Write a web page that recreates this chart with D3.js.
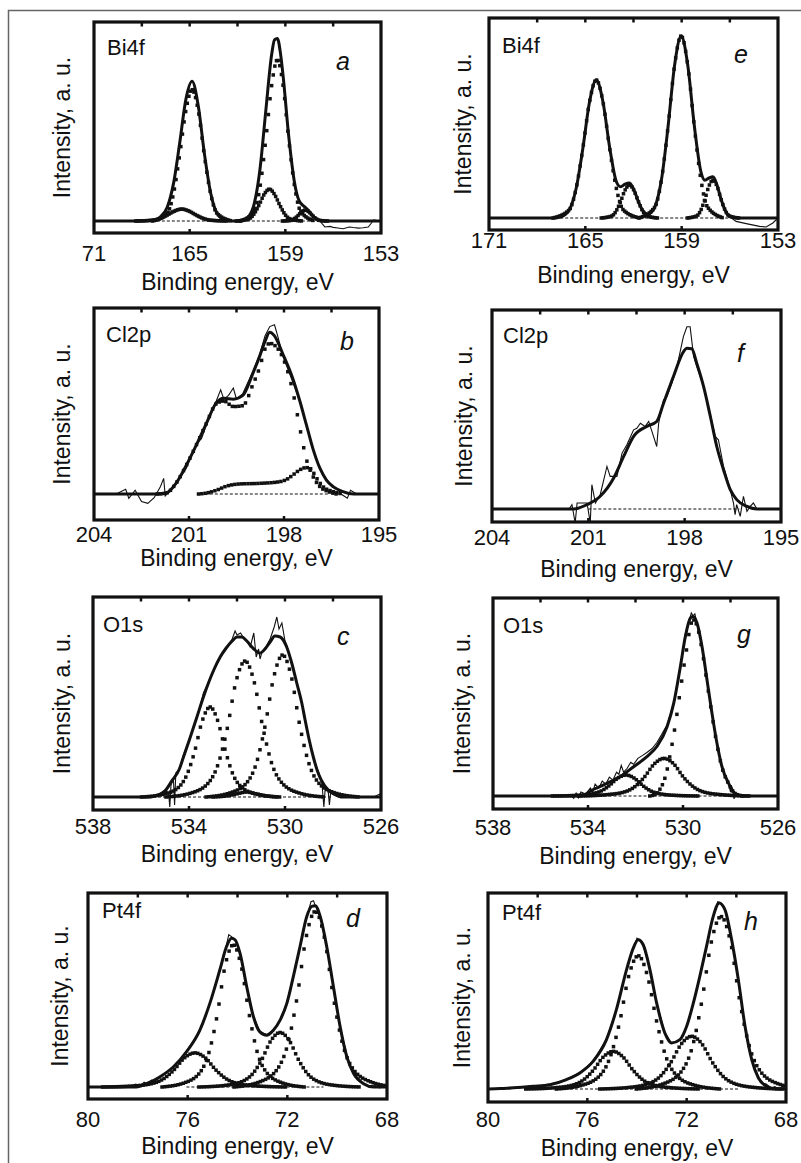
<!DOCTYPE html>
<html>
<head>
<meta charset="utf-8">
<script src="https://cdn.jsdelivr.net/npm/d3@7/dist/d3.min.js"></script>
<style>
  body { margin: 0; background: #fff; }
  svg { display: block; font-family: "Liberation Sans", Arial, sans-serif; }
</style>
</head>
<body>
<svg id="chart" width="801" height="1163"></svg>
<script>
// ---- tick values and labels ----
const ticksBi = [171, 165, 159, 153];
const labelsBiA = ["71", "165", "159", "153"];
const labelsBiE = ["171", "165", "159", "153"];
const minorBi = [168, 165, 162, 159, 156];
const ticksCl = [204, 201, 198, 195];
const minorCl = [202.5, 201, 199.5, 198, 196.5];
const ticksO = [538, 534, 530, 526];
const minorO = [536, 534, 532, 530, 528];
const ticksPt = [80, 76, 72, 68];
const minorPt = [78, 76, 74, 72, 70];

// ---- panel a : Bi4f ----
const envA = [[171,0],[168.4,0],[167.3,0.4],[166.85,2],[166.4,7],[166.0,19.4],[165.63,38.9],[165.24,61],[164.85,70.2],[164.46,57.8],[164.08,34.1],[163.69,14.3],[163.3,4.1],[162.8,0.5],[162.3,0],[161.8,0],[161.5,0.8],[161.3,2.1],[160.95,8.7],[160.59,26],[160.23,55],[159.86,83.5],[159.68,91],[159.5,91.7],[159.3,84],[159.14,72.9],[158.78,42],[158.41,18.6],[158.2,11.5],[158.05,9.1],[157.75,6.9],[157.53,5.1],[157.3,2.75],[157.08,1.2],[156.85,0.3],[156.3,0],[153,0]];
const rawA = [[157.0,0],[156.84,0],[156.52,-3],[156.2,-2.7],[156.0,-3.2],[155.7,-3.5],[155.37,-3.9],[155.0,-3],[154.74,-3.3],[154.4,-3.6],[154.12,-3.4],[153.8,-3],[153.6,-1],[153.49,0.5],[153.3,0.3]];
const compA1 = [[167.33,0],[166.4,4],[166.01,13.9],[165.63,33],[165.24,55.4],[164.85,66],[164.46,55.4],[164.08,33],[163.69,13.9],[163.3,4],[162.37,0]];
const compA2 = [[161.82,0],[160.95,5],[160.59,17],[160.23,40.5],[159.86,68],[159.5,81],[159.14,68],[158.78,40.5],[158.41,17],[158.05,5],[157.18,0]];
const compA3 = [[168.38,0],[167.3,0.4],[166.85,1.3],[166.4,3],[165.95,5],[165.5,6],[165.05,5],[164.6,3],[164.15,1.3],[163.7,0.4],[162.62,0]];
const compA4 = [[162.08,0],[161.3,1],[160.98,3.4],[160.65,8],[160.33,13.4],[160.0,16],[159.68,13.4],[159.35,8],[159.03,3.4],[158.7,1],[157.92,0]];
const compA5 = [[159.19,0],[158.65,0.3],[158.43,1.2],[158.2,2.75],[157.98,4.6],[157.75,5.5],[157.53,4.6],[157.3,2.75],[157.08,1.2],[156.85,0.3],[156.31,0]];
const bgA = [[168,0],[156.5,0]];

// ---- panel e : Bi4f ----
const envE = [[171,0],[167.5,0],[167.01,0],[166.5,0.6],[166.0,4.1],[165.58,14.5],[165.16,34.5],[164.74,58],[164.32,69],[163.9,58],[163.48,35],[163.06,18],[162.8,15.6],[162.53,16.9],[162.25,17.5],[161.98,14.2],[161.7,8.3],[161.43,3.8],[161.15,1.9],[160.9,2.7],[160.67,5.5],[160.26,19.1],[159.85,45.5],[159.44,76.4],[159.03,91],[158.62,76.4],[158.21,46],[157.8,23.1],[157.55,18.9],[157.3,20],[157.05,20.6],[156.8,16.5],[156.55,9.5],[156.3,4],[156.05,1.1],[155.45,0],[153,0]];
const rawE = [[155.9,0],[155.61,-1.7],[154.98,-2.8],[154.15,-4.2],[153.74,-4.5],[153.32,-2.5],[153.0,0]];
const compE1 = [[167.01,0],[166.0,4.1],[165.58,14.5],[165.16,34.5],[164.74,58],[164.32,69],[163.9,58],[163.48,34.5],[163.06,14.5],[162.64,4.1],[161.63,0]];
const compE2 = [[164.01,0],[163.35,1],[163.08,3.5],[162.8,8.3],[162.53,13.9],[162.25,16.5],[161.98,13.9],[161.7,8.3],[161.43,3.5],[161.15,1],[160.49,0]];
const compE3 = [[161.65,0],[160.67,5.5],[160.26,19.1],[159.85,45.5],[159.44,76.4],[159.03,91],[158.62,76.4],[158.21,45.5],[157.8,19.1],[157.39,5.5],[156.41,0]];
const compE4 = [[158.65,0],[158.05,1.1],[157.8,4],[157.55,9.5],[157.3,16],[157.05,19],[156.8,16],[156.55,9.5],[156.3,4],[156.05,1.1],[155.45,0]];
const bgE = [[167.5,0],[155.5,0]];

// ---- panel b : Cl2p ----
const envB = [[204,0],[202,0],[201.72,0.5],[201.4,6],[201.08,15.6],[200.75,27],[200.45,38],[200.14,49],[199.9,51.5],[199.6,51],[199.3,53],[198.98,65],[198.77,74],[198.6,82],[198.45,87],[198.3,85],[198.03,75],[197.72,62],[197.5,50],[197.29,37],[197.08,24],[196.87,14],[196.66,7.5],[196.45,4],[196.14,1.3],[195.8,0],[195,0]];
const rawB = [[203.3,0],[203.0,2.5],[202.9,-2.3],[202.7,2],[202.5,-4],[202.3,-5],[202.1,-2],[201.9,4],[201.8,8.4],[201.75,-1],[201.6,2],[201.4,6],[201.08,14],[200.9,22],[200.75,27],[200.6,30],[200.45,37],[200.3,44],[200.14,50],[200.0,56],[199.9,51],[199.75,53],[199.6,57],[199.5,51],[199.3,54],[198.98,66],[198.77,75],[198.6,85],[198.45,90],[198.3,91],[198.2,85],[198.03,74],[197.72,60],[197.5,50],[197.29,37],[197.08,24],[196.87,14],[196.66,8],[196.45,3.5],[196.3,2.7],[196.2,0],[196.0,-2.3],[195.9,2],[195.7,0]];
const compB1 = [[202,0],[201.72,0.5],[201.4,6],[201.08,15.6],[200.75,27],[200.45,38],[200.14,48.5],[199.9,50],[199.6,47],[199.3,47.5],[198.98,59],[198.77,68],[198.6,78],[198.45,81],[198.3,80],[198.03,73],[197.85,64],[197.72,55],[197.56,41],[197.45,31],[197.29,18.5],[197.08,9.3],[196.87,4],[196.6,1.3],[196.35,0]];
const compB2 = [[200.7,0],[200.45,0.5],[200.14,2],[199.8,4.3],[199.4,5.4],[198.8,5.7],[198.14,6.6],[197.9,8],[197.72,10.2],[197.5,13],[197.3,14.2],[197.15,13.5],[197.0,9.3],[196.77,4],[196.45,1.3],[196.14,0]];
const bgB = [[200.5,0],[196.6,0]];

// ---- panel f : Cl2p ----
const envF = [[204,0],[201.46,0],[201.04,2.2],[200.63,6.4],[200.21,15.6],[199.9,26.4],[199.59,36.5],[199.18,41.5],[198.87,44],[198.66,53],[198.35,66.6],[198.04,79],[197.93,80.8],[197.78,80.5],[197.62,73],[197.41,61.5],[197.2,46.5],[197.0,31.4],[196.79,19.7],[196.58,9.7],[196.38,4.7],[196.06,1.3],[195.75,0],[195,0]];
const rawF = [[201.6,0],[201.51,2.2],[201.41,-7],[201.35,3],[201.04,3],[200.94,-7],[200.89,12.2],[200.78,3],[200.63,7.2],[200.42,21.4],[200.32,16.4],[200.11,16.4],[199.95,28.1],[199.8,32.3],[199.59,39.8],[199.49,40.6],[199.38,43.1],[199.23,41.5],[199.12,44],[198.97,36.5],[198.87,31.4],[198.81,43.1],[198.66,54.8],[198.55,56.5],[198.4,63.2],[198.24,71.6],[198.04,86.6],[197.93,91.6],[197.83,91.6],[197.72,76.6],[197.62,71.6],[197.41,61.5],[197.21,48.2],[197.05,36.5],[196.95,34.8],[196.79,21.4],[196.58,9.7],[196.48,3],[196.43,-2.8],[196.38,2.2],[196.27,-3.7],[196.17,6.4],[196.06,-1.2],[195.96,1.3],[195.86,3],[195.75,0]];
const bgF = [[201.0,0],[196.3,0]];

// ---- panel c : O1s ----
const envC = [[538,0],[535.6,0],[535.34,0.8],[535.0,3],[534.7,8.3],[534.4,14],[534.23,20],[534.0,28],[533.67,40],[533.4,50],[533.19,57],[532.95,64],[532.7,70],[532.45,74.5],[532.2,78],[532.0,80],[531.8,80],[531.59,78],[531.3,74],[531.04,72],[530.8,74.5],[530.62,77.5],[530.42,80.5],[530.2,80],[529.93,75],[529.72,67],[529.51,57],[529.3,47],[529.17,39],[529.0,29],[528.82,20],[528.65,13],[528.47,8],[528.2,3.5],[527.99,1.7],[527.57,0],[526,0]];
const rawC = [[535.6,0],[535.3,1],[535.0,3.5],[534.85,2],[534.8,-5],[534.75,6],[534.65,9],[534.6,-4],[534.55,12],[534.4,14],[534.23,21],[534.0,28.5],[533.8,35],[533.67,40],[533.5,47],[533.4,52],[533.19,57],[533.0,62],[532.8,68],[532.7,70.5],[532.5,73],[532.35,76.5],[532.2,79],[532.08,83],[532.0,81],[531.85,82],[531.7,79],[531.59,78],[531.45,75],[531.3,82],[531.2,70],[531.1,74],[531.04,69],[530.95,73],[530.8,75],[530.62,79],[530.45,85],[530.34,90],[530.25,84],[530.13,87],[530.0,78],[529.93,76],[529.72,67],[529.51,57],[529.3,47],[529.17,39],[529.0,29],[528.82,20],[528.65,14],[528.47,8],[528.38,-5],[528.32,5],[528.2,3],[528.15,-4],[528.1,2],[527.99,1.7],[527.6,0],[526.3,0],[526.05,1.5],[526.0,-1]];
const compC1 = [[535.98,0],[535.07,1.35],[534.42,5],[534.1,10.8],[533.77,22.5],[533.45,38],[533.12,45],[532.8,38],[532.47,22.5],[532.15,10.8],[531.82,5],[531.17,1.35],[530.26,0]];
const compC2 = [[534.96,0],[533.91,2],[533.16,7.5],[532.79,16.3],[532.41,34],[532.04,57.8],[531.66,68],[531.29,57.8],[530.91,34],[530.54,16.3],[530.16,7.5],[529.41,2],[528.36,0]];
const compC3 = [[533.29,0],[532.28,2.1],[531.55,7.8],[531.19,17],[530.83,35.5],[530.46,60.4],[530.1,71],[529.74,60.4],[529.38,35.5],[529.01,17],[528.65,7.8],[527.93,2.1],[526.91,0]];
const compC4 = [[533.0,0],[532.4,0.6],[532.0,1.6],[531.6,2.5],[531.2,1.6],[530.8,0.6],[530.2,0]];
const bgC = [[535.5,0],[528.0,0]];

// ---- panel g : O1s ----
const envG = [[538,0],[534.32,0],[533.76,3.4],[533.2,6.4],[532.64,9.8],[532.08,14.8],[531.52,19.9],[531.1,25],[530.67,35],[530.39,46.9],[530.11,65.4],[529.9,80.6],[529.69,89.9],[529.58,90.7],[529.41,87.4],[529.2,75.5],[528.99,58.7],[528.78,41.8],[528.57,26.6],[528.36,14.8],[528.08,6.4],[527.8,1.3],[527.45,0],[526,0]];
const rawG = [[534.7,0],[534.6,-1.2],[534.5,1.5],[534.4,-1],[534.3,2],[534.1,1],[533.9,4],[533.8,2],[533.7,6],[533.55,4],[533.4,7.5],[533.25,6],[533.1,9.5],[532.95,8],[532.8,12],[532.7,11],[532.6,15.5],[532.5,12],[532.35,14],[532.2,17],[532.08,16],[531.9,19],[531.7,20.5],[531.52,22],[531.3,24],[531.1,27],[530.9,31],[530.67,36],[530.39,47],[530.2,60],[530.11,66],[529.9,82],[529.75,88],[529.65,92.5],[529.58,91],[529.5,92],[529.41,87],[529.2,75.5],[528.99,58.7],[528.78,41.8],[528.57,26.6],[528.36,14.8],[528.2,9],[528.08,6.4],[528.0,2],[527.95,5],[527.85,-1.5],[527.8,1.3],[527.6,0.5],[527.45,0]];
const compG1 = [[531.4,0],[531.1,1.3],[530.95,3.9],[530.81,7.3],[530.67,13.2],[530.53,21.6],[530.39,30.9],[530.25,41.8],[530.11,53.6],[529.97,65],[529.83,75.5],[529.7,85],[529.58,89],[529.41,86],[529.2,74],[528.99,57.5],[528.78,41],[528.57,26],[528.36,14.5],[528.08,6.2],[527.8,1.2],[527.45,0]];
const compG2 = [[534.4,0],[533.28,0.6],[532.45,2.1],[532.04,4.6],[531.63,9.5],[531.21,16.2],[530.8,19],[530.39,16.2],[529.98,9.5],[529.56,4.6],[529.15,2.1],[528.32,0.6],[527.2,0]];
const compG3 = [[535.5,0],[534.5,0.3],[533.8,1.2],[533.45,2.5],[533.1,5.3],[532.75,9],[532.4,10.6],[532.05,9],[531.7,5.3],[531.35,2.5],[531.0,1.2],[530.3,0.3],[529.3,0]];
const bgG = [[534.4,0],[527.6,0]];

// ---- panel d : Pt4f ----
const envD = [[80,0],[78.06,0],[77.65,1.7],[77.12,5.2],[76.58,10.3],[76.05,18.1],[75.51,29.3],[75.11,43.1],[74.71,60.3],[74.44,72.4],[74.24,76.7],[74.1,75.9],[73.9,69],[73.63,51.7],[73.36,36.2],[73.1,28.4],[72.83,26.7],[72.56,29.3],[72.29,34.5],[72.02,43.1],[71.76,56.9],[71.49,72.4],[71.22,87.9],[71.02,93.1],[70.88,93.4],[70.68,87.9],[70.42,72.4],[70.15,51.7],[69.88,31],[69.61,15.5],[69.34,6.9],[68.94,1.7],[68.54,0],[68,0]];
const rawD = [[78.3,0],[78.1,1.5],[77.9,0.5],[77.75,2.5],[77.6,1.5],[77.45,3.5],[77.3,3],[77.12,5.5],[76.9,7],[76.58,10.5],[76.3,14],[76.05,18.5],[75.8,23],[75.51,29.5],[75.11,43],[74.71,60.5],[74.5,70],[74.35,78.5],[74.24,77.5],[74.1,76],[73.9,69],[73.63,52],[73.36,36.5],[73.1,28.5],[72.83,27],[72.56,29.5],[72.29,34.5],[72.02,43.5],[71.76,57],[71.49,72.5],[71.22,88],[71.05,95.5],[70.95,96],[70.88,93.5],[70.68,88],[70.42,72.5],[70.15,52],[69.88,31.5],[69.61,16],[69.45,10],[69.3,8],[69.2,5],[69.1,4],[68.94,1.5],[68.7,0.5],[68.5,1],[68.3,-0.5],[68.1,0.5],[68,0]];
const compD1 = [[77.03,0],[76.12,2.2],[75.47,8.1],[75.15,17.6],[74.82,36.7],[74.5,62.3],[74.17,73.3],[73.85,62.3],[73.52,36.7],[73.2,17.6],[72.87,8.1],[72.22,2.2],[71.31,0]];
const compD2 = [[74.14,0],[73.1,2.7],[72.36,10],[71.99,21.7],[71.62,45.3],[71.25,76.9],[70.88,90.5],[70.51,76.9],[70.14,45.3],[69.77,21.7],[69.4,10],[68.66,2.7],[67.62,0]];
const compD3 = [[79.41,0],[78.23,0.5],[77.39,1.9],[76.97,4.2],[76.55,8.8],[76.13,15],[75.71,17.6],[75.29,15],[74.87,8.8],[74.45,4.2],[74.03,1.9],[73.19,0.5],[72.01,0]];
const compD4 = [[75.55,0],[74.51,0.8],[73.77,3.1],[73.4,6.7],[73.03,14],[72.66,23.9],[72.29,28.1],[71.92,23.9],[71.55,14],[71.18,6.7],[70.81,3.1],[70.07,0.8],[69.03,0]];
const bgD = [[76.05,0],[70.55,0]];

// ---- panel h : Pt4f ----
const envH = [[80,0],[79.5,0.2],[79.13,0.5],[78.19,1.4],[77.51,2.2],[76.84,4.8],[76.3,8.2],[75.77,14.1],[75.23,25.2],[74.83,40.5],[74.42,60.9],[74.15,71.9],[73.95,76.2],[73.75,73.6],[73.48,60.9],[73.21,43.9],[72.88,28.6],[72.61,23.5],[72.27,25.2],[72.0,32],[71.73,43.9],[71.47,57.5],[71.2,72.8],[70.93,88.1],[70.69,94.9],[70.46,91.5],[70.19,76.2],[69.92,55.8],[69.65,32],[69.38,15],[69.11,5.6],[68.78,1.4],[68.37,0],[68,0]];
const rawH = [[79.2,0],[78.8,0.5],[78.4,1],[78.0,1.5],[77.5,2.5],[77.0,4],[76.84,5],[76.3,8.5],[75.77,14],[75.23,25.5],[74.83,40.5],[74.42,61],[74.15,72],[74.0,77],[73.9,76],[73.75,73.5],[73.48,61],[73.21,44],[72.88,29],[72.61,23.5],[72.27,25],[72.0,32],[71.73,44],[71.47,57.5],[71.2,73],[70.93,88],[70.75,95.5],[70.65,95],[70.46,91.5],[70.19,76],[69.92,56],[69.65,32],[69.38,15],[69.11,6],[68.95,3],[68.8,2.5],[68.6,0.5],[68.45,1.2],[68.3,0],[68.1,0.6],[68,0]];
const compH1 = [[77.25,0],[76.2,2],[75.45,7.5],[75.08,16.3],[74.7,34],[74.33,57.8],[73.95,68],[73.58,57.8],[73.2,34],[72.83,16.3],[72.45,7.5],[71.7,2],[70.65,0]];
const compH2 = [[74.03,0],[72.95,2.6],[72.17,9.7],[71.78,21.1],[71.4,44],[71.01,74.8],[70.62,88],[70.23,74.8],[69.85,44],[69.46,21.1],[69.07,9.7],[68.3,2.6],[67.21,0]];
const compH3 = [[78.48,0],[77.36,0.6],[76.56,2.1],[76.16,4.6],[75.76,9.6],[75.36,16.3],[74.96,19.2],[74.56,16.3],[74.16,9.6],[73.76,4.6],[73.36,2.1],[72.56,0.6],[71.44,0]];
const compH4 = [[75.5,0],[74.32,0.8],[73.48,3],[73.06,6.5],[72.64,13.5],[72.22,22.9],[71.8,26.9],[71.38,22.9],[70.96,13.5],[70.54,6.5],[70.12,3],[69.28,0.8],[68.1,0]];
const bgH = [[76.9,0],[69.85,0]];

// ---- layout: where each panel sits ----
const panels = [
  {el:"Bi4f", tag:"a", env:envA, raw:rawA, comps:[compA1,compA2,compA3,compA4,compA5], bg:bgA, dom:[171,153], ticks:ticksBi, labels:labelsBiA, minor:minorBi,
   x0:94, x1:381, y0:22, y1:233, base:221, tickY:261, titleY:290, ylabX:70, elX:107, elY:55, tagX:336, tagY:70},
  {el:"Bi4f", tag:"e", env:envE, raw:rawE, comps:[compE1,compE2,compE3,compE4], bg:bgE, dom:[171,153], ticks:ticksBi, labels:labelsBiE, minor:minorBi,
   x0:489, x1:778, y0:18, y1:230, base:218, tickY:248, titleY:283, ylabX:471, elX:502, elY:53, tagX:734, tagY:63},
  {el:"Cl2p", tag:"b", env:envB, raw:rawB, comps:[compB1,compB2], bg:bgB, dom:[204,195], ticks:ticksCl, labels:ticksCl.map(String), minor:minorCl,
   x0:94, x1:379, y0:308, y1:520, base:494, tickY:542, titleY:566, ylabX:70, elX:106, elY:342, tagX:340, tagY:350},
  {el:"Cl2p", tag:"f", env:envF, raw:rawF, comps:[], bg:bgF, dom:[204,195], ticks:ticksCl, labels:ticksCl.map(String), minor:minorCl,
   x0:492, x1:781, y0:310, y1:522, base:509, tickY:545, titleY:577, ylabX:472, elX:503, elY:343, tagX:737, tagY:362},
  {el:"O1s", tag:"c", env:envC, raw:rawC, comps:[compC1,compC2,compC3,compC4], bg:bgC, dom:[538,526], ticks:ticksO, labels:ticksO.map(String), minor:minorO,
   x0:93, x1:381, y0:597, y1:810, base:797, tickY:834, titleY:862, ylabX:70, elX:103, elY:632, tagX:337, tagY:645},
  {el:"O1s", tag:"g", env:envG, raw:rawG, comps:[compG1,compG2,compG3], bg:bgG, dom:[538,526], ticks:ticksO, labels:ticksO.map(String), minor:minorO,
   x0:493, x1:778, y0:598, y1:809, base:796, tickY:835, titleY:864, ylabX:470, elX:503, elY:633, tagX:737, tagY:643},
  {el:"Pt4f", tag:"d", env:envD, raw:rawD, comps:[compD1,compD2,compD3,compD4], bg:bgD, dom:[80,68], ticks:ticksPt, labels:ticksPt.map(String), minor:minorPt,
   x0:88, x1:387, y0:893, y1:1099, base:1087, tickY:1127, titleY:1154, ylabX:68, elX:102, elY:918, tagX:346, tagY:927},
  {el:"Pt4f", tag:"h", env:envH, raw:rawH, comps:[compH1,compH2,compH3,compH4], bg:bgH, dom:[80,68], ticks:ticksPt, labels:ticksPt.map(String), minor:minorPt,
   x0:488, x1:786, y0:893, y1:1102, base:1089, tickY:1127, titleY:1156, ylabX:470, elX:502, elY:920, tagX:744, tagY:930}
];

const ink = "#111";
const svg = d3.select("#chart");

// outer figure border (runs off the right and bottom edges)
svg.append("path")
  .attr("d", "M8.5,1163 V10.5 H801")
  .attr("fill", "none").attr("stroke", "#666").attr("stroke-width", 1.5);

const defs = svg.append("defs");

// square markers placed every 0.1 eV along a component curve
function drawMarkers(g, pts, x, y) {
  const line = d3.line().x(d => x(d[0])).y(d => y(d[1])).curve(d3.curveMonotoneX);
  const path = g.append("path").attr("d", line(pts)).attr("fill", "none");
  const node = path.node();
  const total = node.getTotalLength();
  const stepPx = Math.abs(x(0) - x(0.1));
  const marks = [];
  let next = -Infinity;
  for (let l = 0; l <= total; l += 0.3) {
    const p = node.getPointAtLength(l);
    if (p.x >= next) { marks.push(p); next = p.x + stepPx; }
  }
  path.remove();
  g.selectAll(null).data(marks).enter().append("rect")
    .attr("x", d => d.x - 1.75).attr("y", d => d.y - 1.75)
    .attr("width", 3.5).attr("height", 3.5)
    .attr("fill", ink);
}

function drawPanel(p, i) {
  const x = d3.scaleLinear().domain(p.dom).range([p.x0, p.x1]);
  const y = d3.scaleLinear().domain([0, 100]).range([p.base, p.y0]);
  const g = svg.append("g");

  defs.append("clipPath").attr("id", "clip" + i)
    .append("rect").attr("x", p.x0).attr("y", p.y0)
    .attr("width", p.x1 - p.x0).attr("height", p.y1 - p.y0);

  const plot = g.append("g").attr("clip-path", `url(#clip${i})`);
  const line = d3.line().x(d => x(d[0])).y(d => y(d[1]));

  // background (dashed)
  plot.append("path").attr("d", line(p.bg))
    .attr("fill", "none").attr("stroke", ink).attr("stroke-width", 1.1)
    .attr("stroke-dasharray", "3,2");

  // measured spectrum (thin, noisy)
  plot.append("path").attr("d", line(p.raw))
    .attr("fill", "none").attr("stroke", ink).attr("stroke-width", 1.1);

  // fitted components (square dots)
  p.comps.forEach(c => drawMarkers(plot, c, x, y));

  // envelope (thick)
  plot.append("path").attr("d", line.curve(d3.curveMonotoneX)(p.env))
    .attr("fill", "none").attr("stroke", ink).attr("stroke-width", 3)
    .attr("stroke-linejoin", "round");

  // frame
  g.append("rect").attr("x", p.x0).attr("y", p.y0)
    .attr("width", p.x1 - p.x0).attr("height", p.y1 - p.y0)
    .attr("fill", "none").attr("stroke", ink).attr("stroke-width", 3.2);

  // inner ticks: top at every half step, bottom at labelled interior values
  g.selectAll(null).data(p.minor).enter().append("line")
    .attr("x1", d => x(d)).attr("x2", d => x(d))
    .attr("y1", p.y0).attr("y2", p.y0 + 4.5)
    .attr("stroke", ink).attr("stroke-width", 2.5);
  g.selectAll(null).data(p.ticks.slice(1, -1)).enter().append("line")
    .attr("x1", d => x(d)).attr("x2", d => x(d))
    .attr("y1", p.y1).attr("y2", p.y1 - 4)
    .attr("stroke", ink).attr("stroke-width", 2.5);

  // tick labels
  g.selectAll(null).data(p.ticks).enter().append("text")
    .attr("x", d => x(d)).attr("y", p.tickY)
    .attr("text-anchor", "middle").attr("font-size", 22).attr("fill", ink)
    .text((d, k) => p.labels[k]);

  // axis titles
  g.append("text").attr("x", (p.x0 + p.x1) / 2).attr("y", p.titleY)
    .attr("text-anchor", "middle").attr("font-size", 23).attr("fill", ink)
    .text("Binding energy, eV");
  g.append("text")
    .attr("transform", `translate(${p.ylabX},${(p.y0 + p.y1) / 2}) rotate(-90)`)
    .attr("text-anchor", "middle").attr("font-size", 23).attr("fill", ink)
    .text("Intensity, a. u.");

  // line name and panel letter
  g.append("text").attr("x", p.elX).attr("y", p.elY)
    .attr("font-size", 22).attr("fill", ink).text(p.el);
  g.append("text").attr("x", p.tagX).attr("y", p.tagY)
    .attr("font-size", 25).attr("font-style", "italic").attr("fill", ink).text(p.tag);
}

panels.forEach(drawPanel);
</script>
</body>
</html>
